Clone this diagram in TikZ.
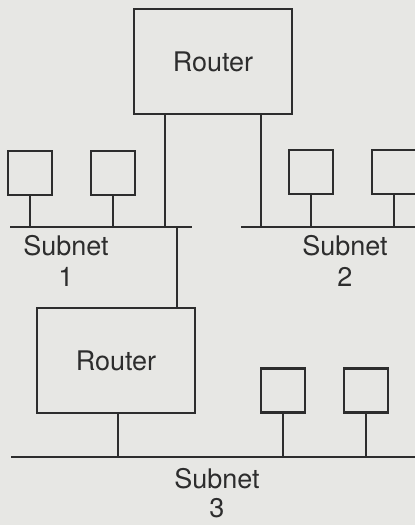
\documentclass[tikz,border=0pt]{standalone}
\usepackage{fontspec}
\setmainfont{TeX Gyre Heros}
\usetikzlibrary{positioning,calc}
\definecolor{netink}{RGB}{45,45,45}
\definecolor{netpaper}{RGB}{231,231,228}
\tikzset{
  router/.style={draw, minimum width=158pt, minimum height=105pt, inner sep=0pt},
  hostbox/.style={draw, minimum size=44pt, inner sep=0pt},
  netlabel/.style={align=center, inner sep=0pt, anchor=north},
}

\begin{document}
\begin{tikzpicture}[x=1pt, y=-1pt, line width=2.2pt, color=netink,
    font=\fontsize{27}{31}\selectfont]
  % ---- page: paper tone, size of the scan ----
  \path[use as bounding box] (0,0) rectangle (415,525);
  \clip (0,0) rectangle (415,525);
  \fill[netpaper] (0,0) rectangle (415,525);
  % ---- routers ----
  \node[router] (toprouter) at (213,61.5) {Router};
  \node[router] (lowrouter) at (116,360.5) {Router};
  % ---- hosts ----
  \node[hostbox] (hostA) at (30,173) {};
  \node[hostbox] (hostB) at (113,173) {};
  \node[hostbox] (hostC) at (311,172) {};
  \node[hostbox] (hostD) at (394,172) {};
  \node[hostbox] (hostE) at (283,390.5) {};
  \node[hostbox] (hostF) at (366,390.5) {};
  % ---- bus ends and taps ----
  \coordinate (busAw) at (10,227);   \coordinate (busAe) at (192,227);
  \coordinate (busBw) at (241,227);  \coordinate (busBe) at (415,227);
  \coordinate (busCw) at (11,457);   \coordinate (busCe) at (415,457);
  \coordinate (tapA) at (165,227);
  \coordinate (tapB) at (261,227);
  \coordinate (taplink) at (177,227);
  \coordinate (tapC) at (118,457);
  % ---- subnets ----
  \draw (busAw) -- (busAe);
  \draw (busBw) -- (busBe);
  \draw (busCw) -- (busCe);
  \foreach \h in {hostA,hostB,hostC,hostD}
    \draw (\h.south) -- (\h.south |- busAw);
  \foreach \h in {hostE,hostF}
    \draw (\h.south) -- (\h.south |- busCw);
  % ---- router links ----
  \draw (toprouter.south -| tapA) -- (tapA);
  \draw (toprouter.south -| tapB) -- (tapB);
  \draw (taplink) -- (taplink |- lowrouter.north);
  \draw (lowrouter.south -| tapC) -- (tapC);
  % ---- labels ----
  \node[netlabel] (subnetA) at (66,234) {Subnet\\1};
  \node[netlabel] (subnetB) at (345,234) {Subnet\\2};
  \node[netlabel] (subnetC) at (217,467) {Subnet\\[-2pt]3};
\end{tikzpicture}
\end{document}
